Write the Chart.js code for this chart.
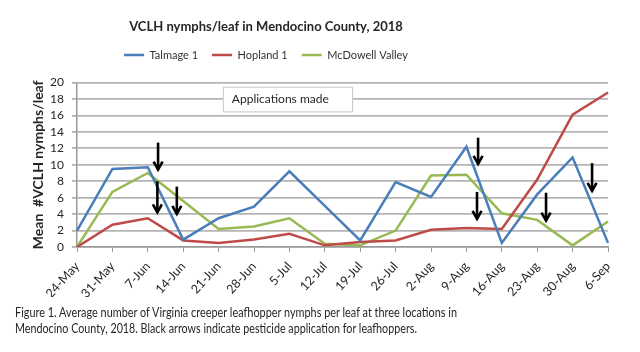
<!DOCTYPE html>
<html>
<head>
<meta charset="utf-8">
<script src="https://cdn.jsdelivr.net/npm/chart.js@4.4.1/dist/chart.umd.min.js"></script>
<style>
  body { margin: 0; background: #fff; }
  #wrap { position: relative; width: 640px; height: 352px; overflow: hidden; }
  #caption { position: absolute; left: 15px; top: 304px; font: 13px Lato, sans-serif; color: #262626; line-height: 16px; }
  #caption div { width: max-content; transform-origin: 0 0; white-space: nowrap; }
</style>
</head>
<body>
<div id="wrap">
  <canvas id="chart" width="640" height="352"></canvas>
  <div id="caption">
    <div>Figure 1. Average number of Virginia creeper leafhopper nymphs per leaf at three locations in</div>
    <div>Mendocino County, 2018. Black arrows indicate pesticide application for leafhoppers.</div>
  </div>
</div>
<script>
const dates = ['24-May', '31-May', '7-Jun', '14-Jun', '21-Jun', '28-Jun', '5-Jul', '12-Jul',
  '19-Jul', '26-Jul', '2-Aug', '9-Aug', '16-Aug', '23-Aug', '30-Aug', '6-Sep'];
const talmage = [2.0, 9.5, 9.7, 0.9, 3.5, 4.9, 9.2, 5.0, 0.8, 7.9, 6.1, 12.2, 0.5, 6.4, 10.9, 0.5];
const hopland = [0.0, 2.7, 3.5, 0.8, 0.5, 0.9, 1.6, 0.2, 0.6, 0.8, 2.1, 2.3, 2.2, 8.2, 16.1, 18.8];
const mcdowell = [0.0, 6.7, 9.0, 5.6, 2.2, 2.5, 3.5, 0.4, 0.2, 2.0, 8.7, 8.8, 4.1, 3.3, 0.2, 3.1];

// pesticide applications: x as date index, arrow from top value down to tip value
const arrowAt = [2.29, 2.27, 2.82, 11.33, 11.3, 13.25, 14.55];
const arrowTop = [12.7, 8.0, 7.35, 13.3, 6.7, 6.6, 10.2];
const arrowTip = [9.3, 4.1, 3.9, 10.0, 3.3, 3.1, 6.7];

const captionWidths = [442, 402];

const font = 'Lato, sans-serif';

// title + legend sit centred left of the plot centre, like the original
const header = {
  id: 'header',
  afterLayout(chart) {
    const t = chart.titleBlock, l = chart.legend;
    [t, l].forEach(b => {
      const w = b.right - b.left;
      b.left = 266 - w / 2;
      b.right = 266 + w / 2;
    });
    const th = t.bottom - t.top;
    t.top = 27 - th / 2;
    t.bottom = t.top + th;
    const lh = l.bottom - l.top;
    l.top = 55 - 14 - 5.5;
    l.bottom = l.top + lh;
  }
};

const notes = {
  id: 'notes',
  beforeDatasetsDraw(chart) {
    const {ctx, scales: {x, y}} = chart;
    const x0 = x.getPixelForValue(4.12), x1 = x.getPixelForValue(7.77);
    const y0 = y.getPixelForValue(19.5), y1 = y.getPixelForValue(16.5);
    ctx.save();
    ctx.fillStyle = '#fff';
    ctx.fillRect(x0, y0, x1 - x0, y1 - y0);
    ctx.strokeStyle = '#c8c8c8';
    ctx.lineWidth = 1;
    ctx.strokeRect(x0 + 0.5, y0 + 0.5, x1 - x0, y1 - y0);
    ctx.fillStyle = '#262626';
    ctx.font = '12px ' + font;
    ctx.textBaseline = 'middle';
    ctx.fillText('Applications made', x0 + 9, (y0 + y1) / 2);
    ctx.restore();
  },
  afterDatasetsDraw(chart) {
    const {ctx, scales: {x, y}} = chart;
    ctx.save();
    ctx.strokeStyle = '#000';
    ctx.lineWidth = 2.6;
    arrowAt.forEach((v, i) => {
      const px = x.getPixelForValue(v);
      const top = y.getPixelForValue(arrowTop[i]);
      const tip = y.getPixelForValue(arrowTip[i]);
      ctx.beginPath();
      ctx.moveTo(px, top);
      ctx.lineTo(px, tip - 1);
      ctx.stroke();
      ctx.beginPath();
      ctx.moveTo(px - 4.5, tip - 9);
      ctx.lineTo(px, tip - 1);
      ctx.lineTo(px + 4.5, tip - 9);
      ctx.stroke();
    });
    ctx.restore();
  }
};

const line = (label, data, color) => ({
  label, data,
  borderColor: color,
  backgroundColor: color,
  borderWidth: 2.5,
  pointRadius: 0,
  tension: 0,
  fill: false
});

new Chart(document.getElementById('chart'), {
  type: 'line',
  data: {
    labels: dates,
    datasets: [
      line('Talmage 1', talmage, '#4a7ebb'),
      line('Hopland 1', hopland, '#be4b48'),
      line('McDowell Valley', mcdowell, '#98b954')
    ]
  },
  options: {
    responsive: false,
    animation: false,
    layout: {padding: {top: 32, left: 0, right: 32, bottom: 55}},
    plugins: {
      title: {
        display: true,
        text: 'VCLH nymphs/leaf in Mendocino County, 2018',
        font: {family: font, size: 13, weight: 'bold'},
        color: '#262626',
        padding: 0
      },
      legend: {
        labels: {
          font: {family: font, size: 11},
          color: '#333',
          usePointStyle: true,
          pointStyle: 'line',
          pointStyleWidth: 20,
          padding: 14
        }
      },
      tooltip: {enabled: false}
    },
    scales: {
      x: {
        offset: false,
        afterFit: s => { s.height = 50; },
        grid: {drawOnChartArea: false, tickLength: 5, color: '#999'},
        border: {color: '#999', width: 1.5},
        ticks: {font: {family: font, size: 12.5}, color: '#262626', minRotation: 48, maxRotation: 48, autoSkip: false, padding: 7}
      },
      y: {
        min: 0,
        max: 20,
        afterFit: s => { s.width = 77; },
        grid: {color: '#b4b4b4', lineWidth: 1.8, tickLength: 5},
        border: {color: '#999', width: 1.5},
        ticks: {stepSize: 2, autoSkip: false, font: {family: font, size: 12}, color: '#262626', padding: 8},
        title: {
          display: true,
          text: 'Mean  #VCLH nymphs/leaf',
          font: {family: font, size: 14, weight: 'bold'},
          color: '#262626',
          padding: {top: 30, bottom: 0}
        }
      }
    }
  },
  plugins: [header, notes]
});

document.querySelectorAll('#caption div').forEach((d, i) => {
  d.style.transform = 'scaleX(' + (captionWidths[i] / d.getBoundingClientRect().width) + ')';
});
</script>
</body>
</html>
